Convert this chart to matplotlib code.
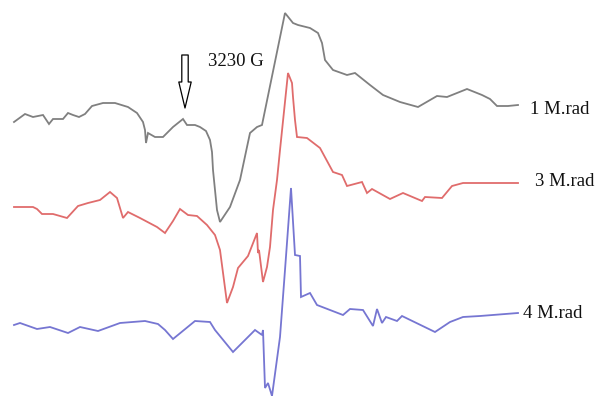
import matplotlib
matplotlib.use("Agg")
import matplotlib.pyplot as plt

# EPR spectra traces (horizontal field axis, derivative signal), in plot units
rad1_x = [14, 25, 33, 43, 49, 53, 63, 68, 73, 79, 85, 92, 103, 115, 128, 137, 143, 145, 146, 148,
          155, 163, 173, 183, 187, 195, 200, 206, 210, 212, 213, 217, 220, 230, 240, 247, 250, 257, 262,
          285, 293, 298, 310, 318, 322, 325, 333, 347, 355, 370, 383, 400, 418, 437, 447, 467, 482,
          490, 497, 508, 518]
rad1_y = [122, 114, 117, 115, 124, 119, 119, 113, 115, 117, 114, 106, 103, 103, 107, 113, 122, 130, 143, 133,
          137, 137, 127, 119, 125, 125, 127, 131, 140, 152, 170, 210, 222, 207, 180, 147, 133, 127, 125,
          13, 23, 25, 28, 33, 43, 60, 70, 75, 73, 85, 95, 102, 107, 96, 97, 89, 95,
          99, 106, 106, 105]

rad3_x = [14, 33, 37, 42, 53, 67, 78, 88, 100, 110, 117, 123, 128, 140, 157, 165, 173, 180, 188, 197,
          207, 215, 220, 227, 233, 238, 248, 257, 258, 259, 263, 267, 270, 273, 277, 280, 288, 292,
          293, 295, 297, 307, 320, 333, 342, 347, 362, 367, 372, 390, 403, 422, 425, 442, 452, 463,
          480, 518]
rad3_y = [207, 207, 209, 214, 214, 218, 206, 203, 200, 192, 198, 218, 212, 218, 227, 233, 221, 209, 215, 216,
          225, 235, 250, 303, 287, 268, 256, 233, 253, 250, 282, 267, 247, 210, 180, 150, 73, 83,
          97, 120, 137, 138, 148, 172, 175, 186, 182, 193, 189, 199, 193, 201, 197, 198, 186, 183,
          183, 183]

rad4_x = [14, 20, 37, 50, 68, 80, 98, 120, 145, 158, 165, 173, 195, 210, 215, 233, 255, 262, 263, 265,
          268, 272, 280, 285, 291, 295, 300, 301, 310, 317, 343, 350, 363, 373, 377, 382, 386, 397,
          402, 435, 450, 463, 480, 518]
rad4_y = [325, 323, 329, 327, 333, 327, 331, 323, 321, 324, 330, 339, 321, 322, 330, 352, 330, 335, 330, 388,
          383, 396, 337, 270, 188, 255, 256, 297, 293, 305, 315, 309, 310, 326, 309, 323, 317, 321,
          316, 332, 322, 317, 316, 313]

labels = ["1 M.rad", "3 M.rad", "4 M.rad"]
field_label = "3230 G"

fig = plt.figure(figsize=(6.04, 3.96), dpi=100)
ax = fig.add_axes([0, 0, 1, 1])
ax.set_xlim(0, 604)
ax.set_ylim(396, 0)
ax.axis("off")

serif = ["Liberation Serif", "DejaVu Serif"]

traces = [
    (rad1_x, rad1_y, "#808080", labels[0], 530, 110),
    (rad3_x, rad3_y, "#e06c6c", labels[1], 535, 181),
    (rad4_x, rad4_y, "#7676d2", labels[2], 523, 313),
]
for xs, ys, color, lab, lx, ly in traces:
    ax.plot(xs, ys, color=color, lw=1.3, solid_joinstyle="miter")
    ax.text(lx, ly, lab, family=serif, fontsize=13.5, ha="left", va="center", color="#111111")

# marker arrow pointing at the g-value line
ax.annotate("", xy=(185, 108), xytext=(185, 55),
            arrowprops=dict(arrowstyle="simple,head_length=1.3,head_width=0.62,tail_width=0.32",
                            mutation_scale=14.4, fc="white", ec="black", lw=0.9,
                            shrinkA=0, shrinkB=0))
ax.text(208, 62, field_label, family=serif, fontsize=13.5, ha="left", va="center", color="#111111")

fig.savefig("out.png", dpi=100, facecolor="white")
